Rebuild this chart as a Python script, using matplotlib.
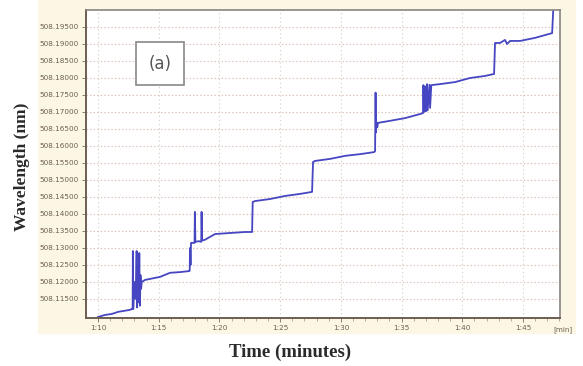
import matplotlib
matplotlib.use("Agg")
import matplotlib.pyplot as plt
from matplotlib.patches import Rectangle
from matplotlib.ticker import FixedLocator, MultipleLocator, FuncFormatter

# ==============================
# DATA (time in minutes, wavelength in nm)
# ==============================
time_min = [
    70.00, 70.58, 71.15, 71.65, 72.14, 72.64, 72.80,
    72.85, 72.87, 72.90, 73.00, 73.10, 73.18, 73.22, 73.30, 73.35, 73.40, 73.45, 73.50, 73.55, 73.60,
    73.87, 74.28, 75.11, 75.93, 76.75, 77.50,
    77.55, 77.58, 77.62, 77.66, 77.95, 77.98, 78.02, 78.30, 78.50, 78.53, 78.57, 78.80,
    79.64, 80.87, 82.11, 82.69,
    82.74, 82.93, 84.17, 85.40, 86.64, 87.63,
    87.71, 87.87, 89.11, 90.35, 91.58, 92.74,
    92.82, 92.86, 92.89, 92.93, 93.00, 93.06,
    94.05, 95.29, 96.52, 96.77,
    96.80, 96.84, 96.95, 97.00, 97.10, 97.15, 97.30, 97.35, 97.45,
    98.17, 99.41, 100.64, 101.88, 102.62,
    102.70, 103.11, 103.52, 103.69, 103.94, 104.76, 105.99, 107.40,
    107.48, 107.50,
]
wavelength_nm = [
    508.1097, 508.1103, 508.1106, 508.1112, 508.1115, 508.1118, 508.1121,
    508.1120, 508.1291, 508.1121, 508.1200, 508.1150, 508.1291, 508.1125, 508.1250, 508.1140, 508.1285, 508.1130, 508.1220, 508.1180, 508.1200,
    508.1206, 508.1209, 508.1215, 508.1227, 508.1229, 508.1232,
    508.1233, 508.1300, 508.1250, 508.1315, 508.1315, 508.1406, 508.1318, 508.1320, 508.1318, 508.1406, 508.1322, 508.1324,
    508.1341, 508.1344, 508.1347, 508.1347,
    508.1435, 508.1438, 508.1444, 508.1453, 508.1459, 508.1465,
    508.1553, 508.1556, 508.1562, 508.1571, 508.1576, 508.1582,
    508.1585, 508.1757, 508.1640, 508.1670, 508.1655, 508.1668,
    508.1674, 508.1682, 508.1694, 508.1697,
    508.1779, 508.1700, 508.1775, 508.1702, 508.1782, 508.1705, 508.1780, 508.1712, 508.1779,
    508.1782, 508.1788, 508.1800, 508.1806, 508.1812,
    508.1903, 508.1903, 508.1912, 508.1900, 508.1909, 508.1909, 508.1918, 508.1932,
    508.1990, 508.2010,
]

x_ticks = [70, 75, 80, 85, 90, 95, 100, 105]
y_ticks = [508.115 + 0.005 * i for i in range(17)]

# ==============================
# FIGURE
# ==============================
fig = plt.figure(figsize=(5.83, 3.66), dpi=100)
panel = Rectangle((38 / 583, 1 - 333 / 366), 537 / 583, 333 / 366,
                  transform=fig.transFigure, color="#fbf7e4", zorder=-5)
fig.add_artist(panel)

ax = fig.add_axes([86 / 583, 1 - 318 / 366, 474 / 583, 308 / 366])
ax.set_zorder(2)
ax.set_facecolor("white")

ax.plot(time_min, wavelength_nm, color="#4646c2", linewidth=1.3)

ax.set_xlim(69.01, 108.05)
ax.set_ylim(508.1094, 508.2000)

ax.xaxis.set_major_locator(FixedLocator(x_ticks))
ax.xaxis.set_minor_locator(MultipleLocator(1))
ax.xaxis.set_major_formatter(FuncFormatter(lambda v, p: "%d:%02d" % (v // 60, v % 60)))
ax.yaxis.set_major_locator(FixedLocator(y_ticks))
ax.yaxis.set_major_formatter(FuncFormatter(lambda v, p: "%.5f" % v))

ax.tick_params(axis="both", labelsize=5.2, labelcolor="#6e5e52", color="#7a6a5e",
               length=3, width=0.6, pad=2)
ax.tick_params(axis="x", which="minor", length=2, width=0.5, color="#9a8a7e")

ax.yaxis.grid(True, linestyle=(0, (1.2, 2)), color="#d9bfb6", linewidth=0.8)
ax.xaxis.grid(True, linestyle=(0, (1.2, 2.5)), color="#d6d6cf", linewidth=0.8)

for side in ["left", "bottom"]:
    ax.spines[side].set_color("#6e5e52")
    ax.spines[side].set_linewidth(1.4)
for side in ["top", "right"]:
    ax.spines[side].set_color("#8a8480")
    ax.spines[side].set_linewidth(1.2)

ax.text(108.3, 508.1094 - 0.0024, "[min]", fontsize=5.2, color="#6e5e52",
        ha="center", va="top", clip_on=False)

# panel label box
ax.text(0.156, 0.825, "(a)", transform=ax.transAxes, fontsize=12, color="#555555",
        ha="center", va="center",
        bbox=dict(boxstyle="square,pad=0.75", facecolor="white", edgecolor="#888888", linewidth=1.2))

fig.text(22 / 583, 1 - 167 / 366, "Wavelength (nm)", rotation=90, ha="center", va="center",
         fontsize=12.5, fontweight="bold", family="Liberation Serif", color="#2a2a2a")
fig.text(290 / 583, 1 - 352 / 366, "Time (minutes)", ha="center", va="center",
         fontsize=13.5, fontweight="bold", family="Liberation Serif", color="#2a2a2a")

plt.savefig("out.png", dpi=100)
plt.close()
